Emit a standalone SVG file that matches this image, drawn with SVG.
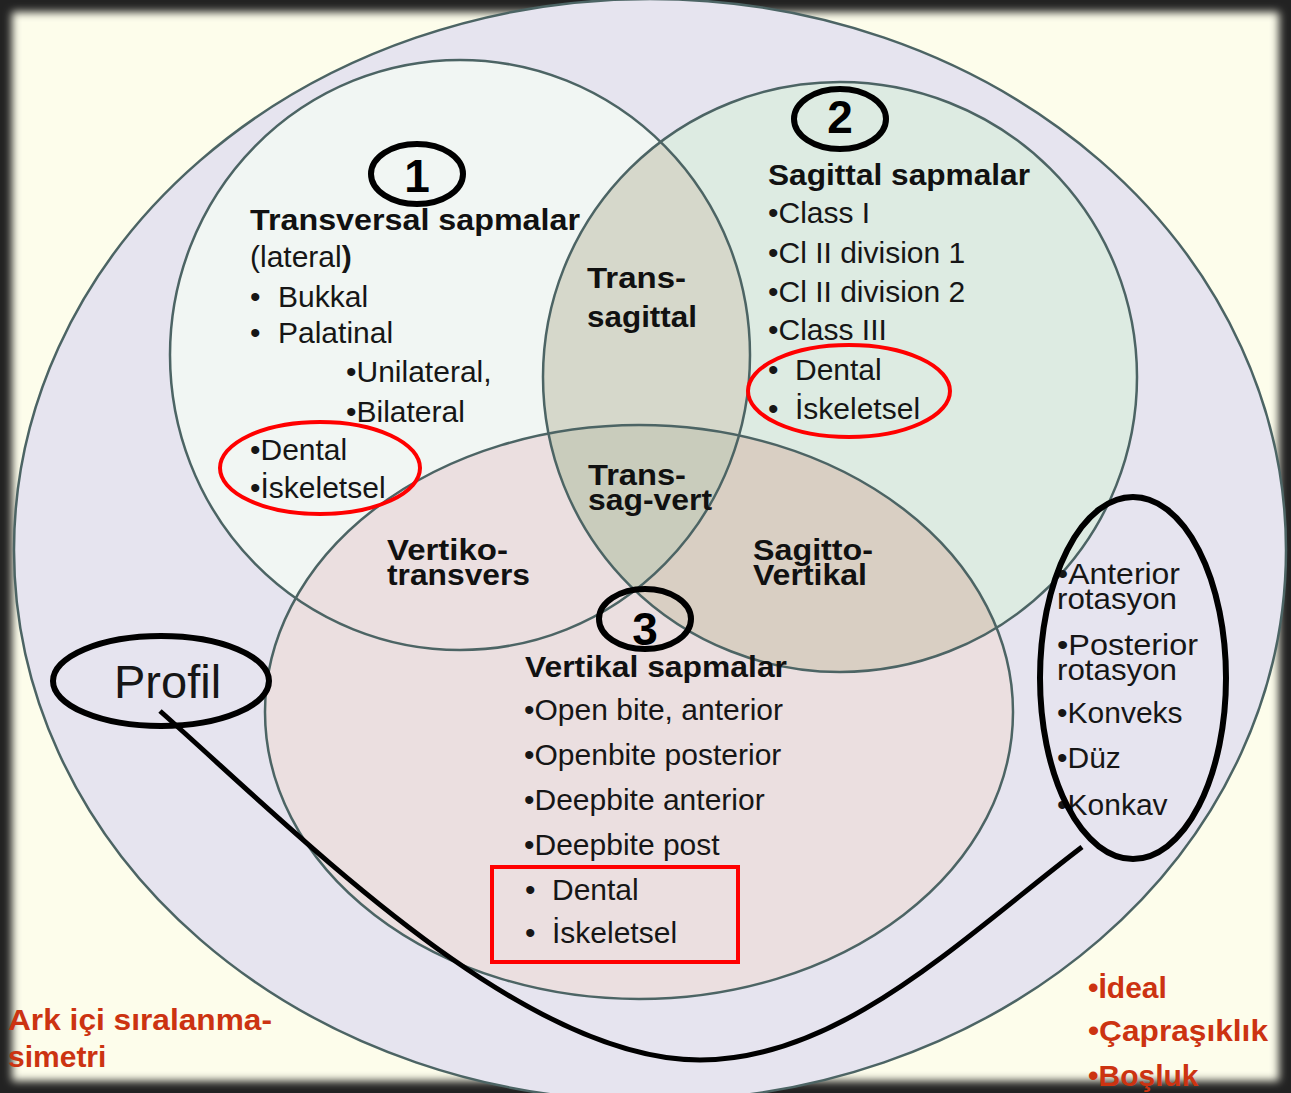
<svg xmlns="http://www.w3.org/2000/svg" width="1291" height="1093" viewBox="0 0 1291 1093">
<style>
.reg{font-family:"Liberation Sans",Arial,sans-serif;font-size:30px;fill:#161616}
.bold{font-family:"Liberation Sans",Arial,sans-serif;font-weight:bold;font-size:29px;fill:#111}
.num{font-family:"Liberation Sans",Arial,sans-serif;font-weight:bold;font-size:46px;fill:#000}
.red{font-family:"Liberation Sans",Arial,sans-serif;font-weight:bold;font-size:30px;fill:#CC3311}
.big{font-family:"Liberation Sans",Arial,sans-serif;font-size:47px;fill:#161616}
.ring{fill:none;stroke:#4C6464;stroke-width:2.5}
.blk{fill:none;stroke:#000;stroke-width:6}
.redmark{fill:none;stroke:#FF0000;stroke-width:4}
</style>
<defs>
<filter id="soft" x="-5%" y="-5%" width="110%" height="110%"><feGaussianBlur stdDeviation="4"/></filter>
<clipPath id="clip1"><ellipse cx="460" cy="355" rx="290" ry="295"/></clipPath>
<clipPath id="clip2"><ellipse cx="840" cy="377" rx="297" ry="295"/></clipPath>
<clipPath id="clip3"><ellipse cx="639" cy="712" rx="374" ry="287"/></clipPath>
</defs>
<rect x="0" y="0" width="1291" height="1093" fill="#222"/>
<rect x="12" y="12" width="1267" height="1069" fill="#FDFDEB" filter="url(#soft)"/>

<g id="outer">
<ellipse cx="650" cy="550" rx="636" ry="551" fill="#E6E4EF" stroke="#4C6464" stroke-width="2.5"/>
</g>

<g id="fills">
<ellipse cx="460" cy="355" rx="290" ry="295" fill="#F1F6F3"/>
<ellipse cx="840" cy="377" rx="297" ry="295" fill="#DDEBE2"/>
<ellipse cx="639" cy="712" rx="374" ry="287" fill="#EBDFE0"/>
<ellipse cx="840" cy="377" rx="297" ry="295" fill="#D6D8CB" clip-path="url(#clip1)"/>
<ellipse cx="639" cy="712" rx="374" ry="287" fill="#D9CFC3" clip-path="url(#clip2)"/>
<g clip-path="url(#clip1)"><ellipse cx="639" cy="712" rx="374" ry="287" fill="#C9CCBC" clip-path="url(#clip2)"/></g>
</g>

<g id="circle-transversal"><ellipse class="ring" cx="460" cy="355" rx="290" ry="295"/></g>
<g id="circle-sagittal"><ellipse class="ring" cx="840" cy="377" rx="297" ry="295"/></g>
<g id="circle-vertikal"><ellipse class="ring" cx="639" cy="712" rx="374" ry="287"/></g>

<g id="connectors">
<path d="M160,711 C300,835 520,1060 700,1060 C840,1060 960,940 1082,847" fill="none" stroke="#000" stroke-width="5"/>
</g>

<g id="num1"><ellipse class="blk" cx="417" cy="174" rx="46" ry="30" stroke-width="4"/><text class="num" x="417" y="192" text-anchor="middle">1</text></g>
<g id="num2"><ellipse class="blk" cx="840" cy="119" rx="46" ry="30" stroke-width="4"/><text class="num" x="840" y="133" text-anchor="middle">2</text></g>
<g id="num3"><ellipse class="blk" cx="645" cy="619" rx="46" ry="30" stroke-width="4"/><text class="num" x="645" y="645" text-anchor="middle">3</text></g>

<g id="transversal-text">
<text class="bold" x="250" y="230" textLength="330" lengthAdjust="spacingAndGlyphs">Transversal sapmalar</text>
<text class="reg" x="250" y="267">(lateral<tspan font-weight="bold">)</tspan></text>
<text class="reg" x="250" y="307">•</text><text class="reg" x="278" y="307">Bukkal</text>
<text class="reg" x="250" y="343">•</text><text class="reg" x="278" y="343">Palatinal</text>
<text class="reg" x="346" y="382">•Unilateral,</text>
<text class="reg" x="346" y="422">•Bilateral</text>
<text class="reg" x="250" y="460">•Dental</text>
<text class="reg" x="250" y="498">•İskeletsel</text>
</g>
<g id="red-ellipse-1"><ellipse class="redmark" cx="320" cy="468" rx="100" ry="46"/></g>

<g id="sagittal-text">
<text class="bold" x="768" y="185" textLength="262" lengthAdjust="spacingAndGlyphs">Sagittal sapmalar</text>
<text class="reg" x="768" y="223">•Class I</text>
<text class="reg" x="768" y="263">•Cl II division 1</text>
<text class="reg" x="768" y="302">•Cl II division 2</text>
<text class="reg" x="768" y="340">•Class III</text>
<text class="reg" x="768" y="380">•</text><text class="reg" x="795" y="380">Dental</text>
<text class="reg" x="768" y="419">•</text><text class="reg" x="795" y="419">İskeletsel</text>
</g>
<g id="red-ellipse-2"><ellipse class="redmark" cx="849" cy="391" rx="101" ry="46"/></g>

<g id="trans-sagittal">
<text class="bold" x="587" y="288" textLength="99" lengthAdjust="spacingAndGlyphs">Trans-</text>
<text class="bold" x="587" y="327" textLength="110" lengthAdjust="spacingAndGlyphs">sagittal</text>
</g>
<g id="trans-sag-vert">
<text class="bold" x="588" y="485" textLength="98" lengthAdjust="spacingAndGlyphs">Trans-</text>
<text class="bold" x="588" y="510" textLength="124" lengthAdjust="spacingAndGlyphs">sag-vert</text>
</g>
<g id="vertiko-transvers">
<text class="bold" x="387" y="560" textLength="121" lengthAdjust="spacingAndGlyphs">Vertiko-</text>
<text class="bold" x="387" y="585" textLength="143" lengthAdjust="spacingAndGlyphs">transvers</text>
</g>
<g id="sagitto-vertikal">
<text class="bold" x="753" y="560" textLength="120" lengthAdjust="spacingAndGlyphs">Sagitto-</text>
<text class="bold" x="753" y="585" textLength="114" lengthAdjust="spacingAndGlyphs">Vertikal</text>
</g>

<g id="vertikal-text">
<text class="bold" x="525" y="677" textLength="262" lengthAdjust="spacingAndGlyphs">Vertikal sapmalar</text>
<text class="reg" x="524" y="720">•Open bite, anterior</text>
<text class="reg" x="524" y="765">•Openbite posterior</text>
<text class="reg" x="524" y="810">•Deepbite anterior</text>
<text class="reg" x="524" y="855">•Deepbite post</text>
<text class="reg" x="525" y="900">•</text><text class="reg" x="552" y="900">Dental</text>
<text class="reg" x="525" y="943">•</text><text class="reg" x="552" y="943">İskeletsel</text>
</g>
<g id="red-rect"><rect class="redmark" x="492" y="867" width="246" height="95"/></g>

<g id="profil">
<text class="big" x="114" y="698">Profil</text>
<ellipse class="blk" cx="161" cy="681" rx="108" ry="45"/>
</g>

<g id="profil-list">
<text class="reg" x="1057" y="584" textLength="123" lengthAdjust="spacingAndGlyphs">•Anterior</text>
<text class="reg" x="1057" y="609" textLength="120" lengthAdjust="spacingAndGlyphs">rotasyon</text>
<text class="reg" x="1057" y="655" textLength="141" lengthAdjust="spacingAndGlyphs">•Posterior</text>
<text class="reg" x="1057" y="680" textLength="120" lengthAdjust="spacingAndGlyphs">rotasyon</text>
<text class="reg" x="1057" y="723">•Konveks</text>
<text class="reg" x="1057" y="768">•Düz</text>
<text class="reg" x="1057" y="815">•Konkav</text>
<ellipse class="blk" cx="1133" cy="678" rx="93" ry="181"/>
</g>

<g id="ark-ici">
<text class="red" x="8" y="1030" textLength="264" lengthAdjust="spacingAndGlyphs">Ark içi sıralanma-</text>
<text class="red" x="8" y="1067">simetri</text>
</g>
<g id="ark-list">
<text class="red" x="1088" y="998">•İdeal</text>
<text class="red" x="1088" y="1041" textLength="180" lengthAdjust="spacingAndGlyphs">•Çapraşıklık</text>
<text class="red" x="1088" y="1086">•Boşluk</text>
</g>
</svg>
